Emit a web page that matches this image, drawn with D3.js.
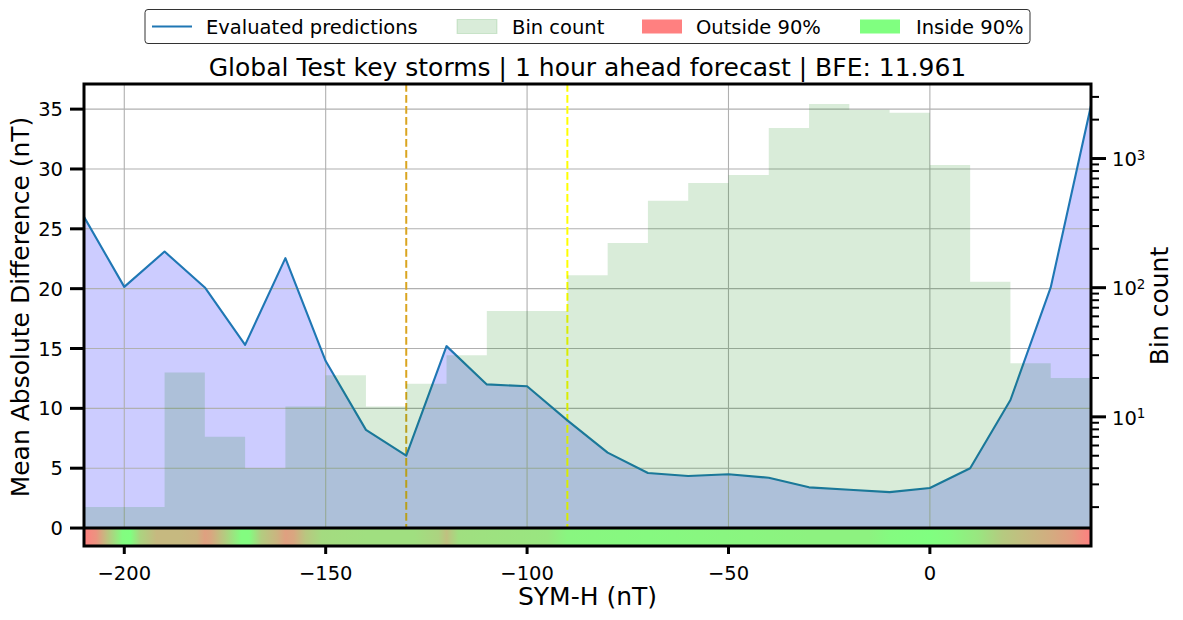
<!DOCTYPE html>
<html>
<head>
<meta charset="utf-8">
<script src="https://cdn.jsdelivr.net/npm/d3@7"></script>
<style>
  body { margin: 0; background: #fff; }
  text { font-family: "DejaVu Sans", sans-serif; fill: #000; }
</style>
</head>
<body>
<svg id="chart" width="1183" height="620"></svg>
<script>
// bin edges of SYM-H (nT) and the MAE evaluated at each edge
var edges = [-210, -200, -190, -180, -170, -160, -150, -140, -130, -120, -110, -100, -90,
  -80, -70, -60, -50, -40, -30, -20, -10, 0, 10, 20, 30, 40];
var mae = [26.0, 20.15, 23.1, 20.1, 15.3, 22.55, 13.95, 8.2, 6.05, 15.2, 12.0, 11.85, 9.0,
  6.3, 4.6, 4.35, 4.5, 4.2, 3.4, 3.2, 3.0, 3.35, 5.0, 10.7, 20.1, 35.3];

// sample count per 10 nT bin (left edge = edges[i])
var binCounts = [2, 2, 22, 7, 4, 12, 21, 12, 18, 30, 66, 66, 125, 222, 471, 646, 746,
  1722, 2643, 2388, 2263, 891, 111, 26, 20];

// share of "outside 90%" along the colour strip under the axis
var stripX = [-210, -207, -204, -200.5, -198.5, -196, -192, -186, -182, -180, -178.5, -175,
  -171, -169, -166, -162, -160, -158, -155, -151, -140, -128, -122, -120, -117, -105, -95,
  -90, -70, -45, -30, -15, -10, 0, 5, 12, 18, 22, 30, 35, 40];
var stripOut = [1.0, 0.85, 0.45, 0.02, 0.0, 0.35, 0.55, 0.55, 0.6, 0.75, 0.7, 0.4,
  0.02, 0.02, 0.4, 0.6, 0.75, 0.7, 0.45, 0.28, 0.25, 0.25, 0.35, 0.5, 0.25, 0.22, 0.2,
  0.07, 0.05, 0.08, 0.1, 0.1, 0.03, 0.0, 0.05, 0.2, 0.42, 0.5, 0.65, 0.78, 1.0];

var xTicks = [-200, -150, -100, -50, 0];
var yTicks = [0, 5, 10, 15, 20, 25, 30, 35];
var vLines = [{ x: -130, color: "#daa520" }, { x: -90, color: "#ffff00" }];
var legendItems = ["Evaluated predictions", "Bin count", "Outside 90%", "Inside 90%"];
var titleText = "Global Test key storms | 1 hour ahead forecast | BFE: 11.961";

var svg = d3.select("#chart");
var mLeft = 84, mRight = 1091, mTop = 84, mBottom = 546;

var x = d3.scaleLinear().domain([-210, 40]).range([mLeft, mRight]);
var y = d3.scaleLinear().domain([-1.5, 37.1]).range([mBottom, mTop]);
var yLog = d3.scaleLog().domain([1, 3776]).range([mBottom, mTop]);

var redC = "#ff8080", greenC = "#80ff80";
var mix = d3.interpolateRgb(greenC, redC);

var defs = svg.append("defs");
defs.append("clipPath").attr("id", "plotclip")
  .append("rect").attr("x", mLeft).attr("y", mTop).attr("width", mRight - mLeft).attr("height", mBottom - mTop);

var grad = defs.append("linearGradient").attr("id", "strip")
  .attr("gradientUnits", "userSpaceOnUse")
  .attr("x1", x(-210)).attr("x2", x(40)).attr("y1", 0).attr("y2", 0);
stripX.forEach(function (v, i) {
  grad.append("stop")
    .attr("offset", (x(v) - x(-210)) / (x(40) - x(-210)))
    .attr("stop-color", mix(stripOut[i]));
});

var plot = svg.append("g").attr("clip-path", "url(#plotclip)");

// fill under the MAE curve
var pts = edges.map(function (e, i) { return [e, mae[i]]; });
plot.append("path")
  .datum(pts)
  .attr("fill", "#0000ff").attr("fill-opacity", 0.2)
  .attr("d", d3.area().x(function (d) { return x(d[0]); }).y0(y(0)).y1(function (d) { return y(d[1]); }));

// grid
plot.append("g").selectAll("line").data(xTicks).enter().append("line")
  .attr("x1", function (d) { return x(d); }).attr("x2", function (d) { return x(d); })
  .attr("y1", mTop).attr("y2", mBottom)
  .attr("stroke", "#b0b0b0").attr("stroke-width", 1.1);
plot.append("g").selectAll("line").data(yTicks).enter().append("line")
  .attr("x1", mLeft).attr("x2", mRight)
  .attr("y1", function (d) { return y(d); }).attr("y2", function (d) { return y(d); })
  .attr("stroke", "#b0b0b0").attr("stroke-width", 1.1);

// dashed markers
plot.append("g").selectAll("line").data(vLines).enter().append("line")
  .attr("x1", function (d) { return x(d.x); }).attr("x2", function (d) { return x(d.x); })
  .attr("y1", mTop).attr("y2", y(0))
  .attr("stroke", function (d) { return d.color; })
  .attr("stroke-width", 2).attr("stroke-dasharray", "7.7,3.3");

// MAE line
plot.append("path")
  .datum(pts)
  .attr("fill", "none").attr("stroke", "#1f77b4").attr("stroke-width", 2.1)
  .attr("stroke-linejoin", "round")
  .attr("d", d3.line().x(function (d) { return x(d[0]); }).y(function (d) { return y(d[1]); }));

// histogram (twin log axis), merged into one step outline so bars do not double-blend
var stepPts = [[x(edges[0]), yLog(1)]];
binCounts.forEach(function (c, i) {
  stepPts.push([x(edges[i]), yLog(c)]);
  stepPts.push([x(edges[i + 1]), yLog(c)]);
});
stepPts.push([x(edges[edges.length - 1]), yLog(1)]);
plot.append("path")
  .attr("d", "M" + stepPts.map(function (p) { return p.join(","); }).join("L") + "Z")
  .attr("fill", "#008000").attr("fill-opacity", 0.15);

// colour strip below zero
svg.append("rect")
  .attr("x", mLeft).attr("y", y(0)).attr("width", mRight - mLeft).attr("height", y(-1.5) - y(0))
  .attr("fill", "url(#strip)");
svg.append("line")
  .attr("x1", mLeft).attr("x2", mRight).attr("y1", y(0)).attr("y2", y(0))
  .attr("stroke", "#000").attr("stroke-width", 3);

// frame
svg.append("rect")
  .attr("x", mLeft).attr("y", mTop).attr("width", mRight - mLeft).attr("height", mBottom - mTop)
  .attr("fill", "none").attr("stroke", "#000").attr("stroke-width", 3);

// left axis
var gl = svg.append("g");
yTicks.forEach(function (t) {
  gl.append("line").attr("x1", mLeft - 14).attr("x2", mLeft).attr("y1", y(t)).attr("y2", y(t))
    .attr("stroke", "#000").attr("stroke-width", 3);
  gl.append("text").attr("x", mLeft - 21).attr("y", y(t)).attr("dy", "0.36em")
    .attr("text-anchor", "end").style("font-size", "19.5px").text(t);
});

// bottom axis
var fmt = function (d) { return d < 0 ? "\u2212" + Math.abs(d) : String(d); };
xTicks.forEach(function (t) {
  gl.append("line").attr("x1", x(t)).attr("x2", x(t)).attr("y1", mBottom).attr("y2", mBottom + 8)
    .attr("stroke", "#000").attr("stroke-width", 3);
  gl.append("text").attr("x", x(t)).attr("y", 580)
    .attr("text-anchor", "middle").style("font-size", "19.5px").text(fmt(t));
});

// right log axis
var majors = [10, 100, 1000];
var minors = [];
[1, 10, 100, 1000].forEach(function (p) {
  for (var k = 2; k <= 9; k++) if (p * k < 3776) minors.push(p * k);
});
minors.forEach(function (t) {
  gl.append("line").attr("x1", mRight).attr("x2", mRight + 8).attr("y1", yLog(t)).attr("y2", yLog(t))
    .attr("stroke", "#000").attr("stroke-width", 2);
});
majors.forEach(function (t, i) {
  gl.append("line").attr("x1", mRight).attr("x2", mRight + 15).attr("y1", yLog(t)).attr("y2", yLog(t))
    .attr("stroke", "#000").attr("stroke-width", 3);
  var tx = gl.append("text").attr("x", mRight + 21).attr("y", yLog(t)).attr("dy", "0.4em")
    .style("font-size", "19.5px");
  tx.append("tspan").text("10");
  tx.append("tspan").attr("dy", "-0.5em").style("font-size", "13.5px").text(String(i + 1));
});

// labels
svg.append("text").attr("x", (mLeft + mRight) / 2).attr("y", 76)
  .attr("text-anchor", "middle").style("font-size", "25px").text(titleText);
svg.append("text").attr("x", (mLeft + mRight) / 2).attr("y", 605)
  .attr("text-anchor", "middle").style("font-size", "25px").text("SYM-H (nT)");
svg.append("text").attr("transform", "translate(29,307) rotate(-90)")
  .attr("text-anchor", "middle").style("font-size", "25px").text("Mean Absolute Difference (nT)");
svg.append("text").attr("transform", "translate(1168,306) rotate(-90)")
  .attr("text-anchor", "middle").style("font-size", "25px").text("Bin count");

// legend
var lg = svg.append("g");
lg.append("rect").attr("x", 145).attr("y", 9.5).attr("width", 885).attr("height", 34)
  .attr("rx", 3).attr("fill", "#fff").attr("stroke", "#333").attr("stroke-width", 1);
var handleX = [152, 457, 642, 860];
var textX = [206, 512, 696, 916];
legendItems.forEach(function (name, i) {
  if (i === 0) {
    lg.append("line").attr("x1", handleX[i]).attr("x2", handleX[i] + 40).attr("y1", 26.5).attr("y2", 26.5)
      .attr("stroke", "#1f77b4").attr("stroke-width", 2.1);
  } else {
    var r = lg.append("rect").attr("x", handleX[i]).attr("y", 19.5).attr("width", 40).attr("height", 14);
    if (i === 1) r.attr("fill", "#008000").attr("fill-opacity", 0.15).attr("stroke", "#008000").attr("stroke-opacity", 0.15);
    if (i === 2) r.attr("fill", redC);
    if (i === 3) r.attr("fill", greenC);
  }
  lg.append("text").attr("x", textX[i]).attr("y", 33.5).style("font-size", "19.5px").text(name);
});
</script>
</body>
</html>
